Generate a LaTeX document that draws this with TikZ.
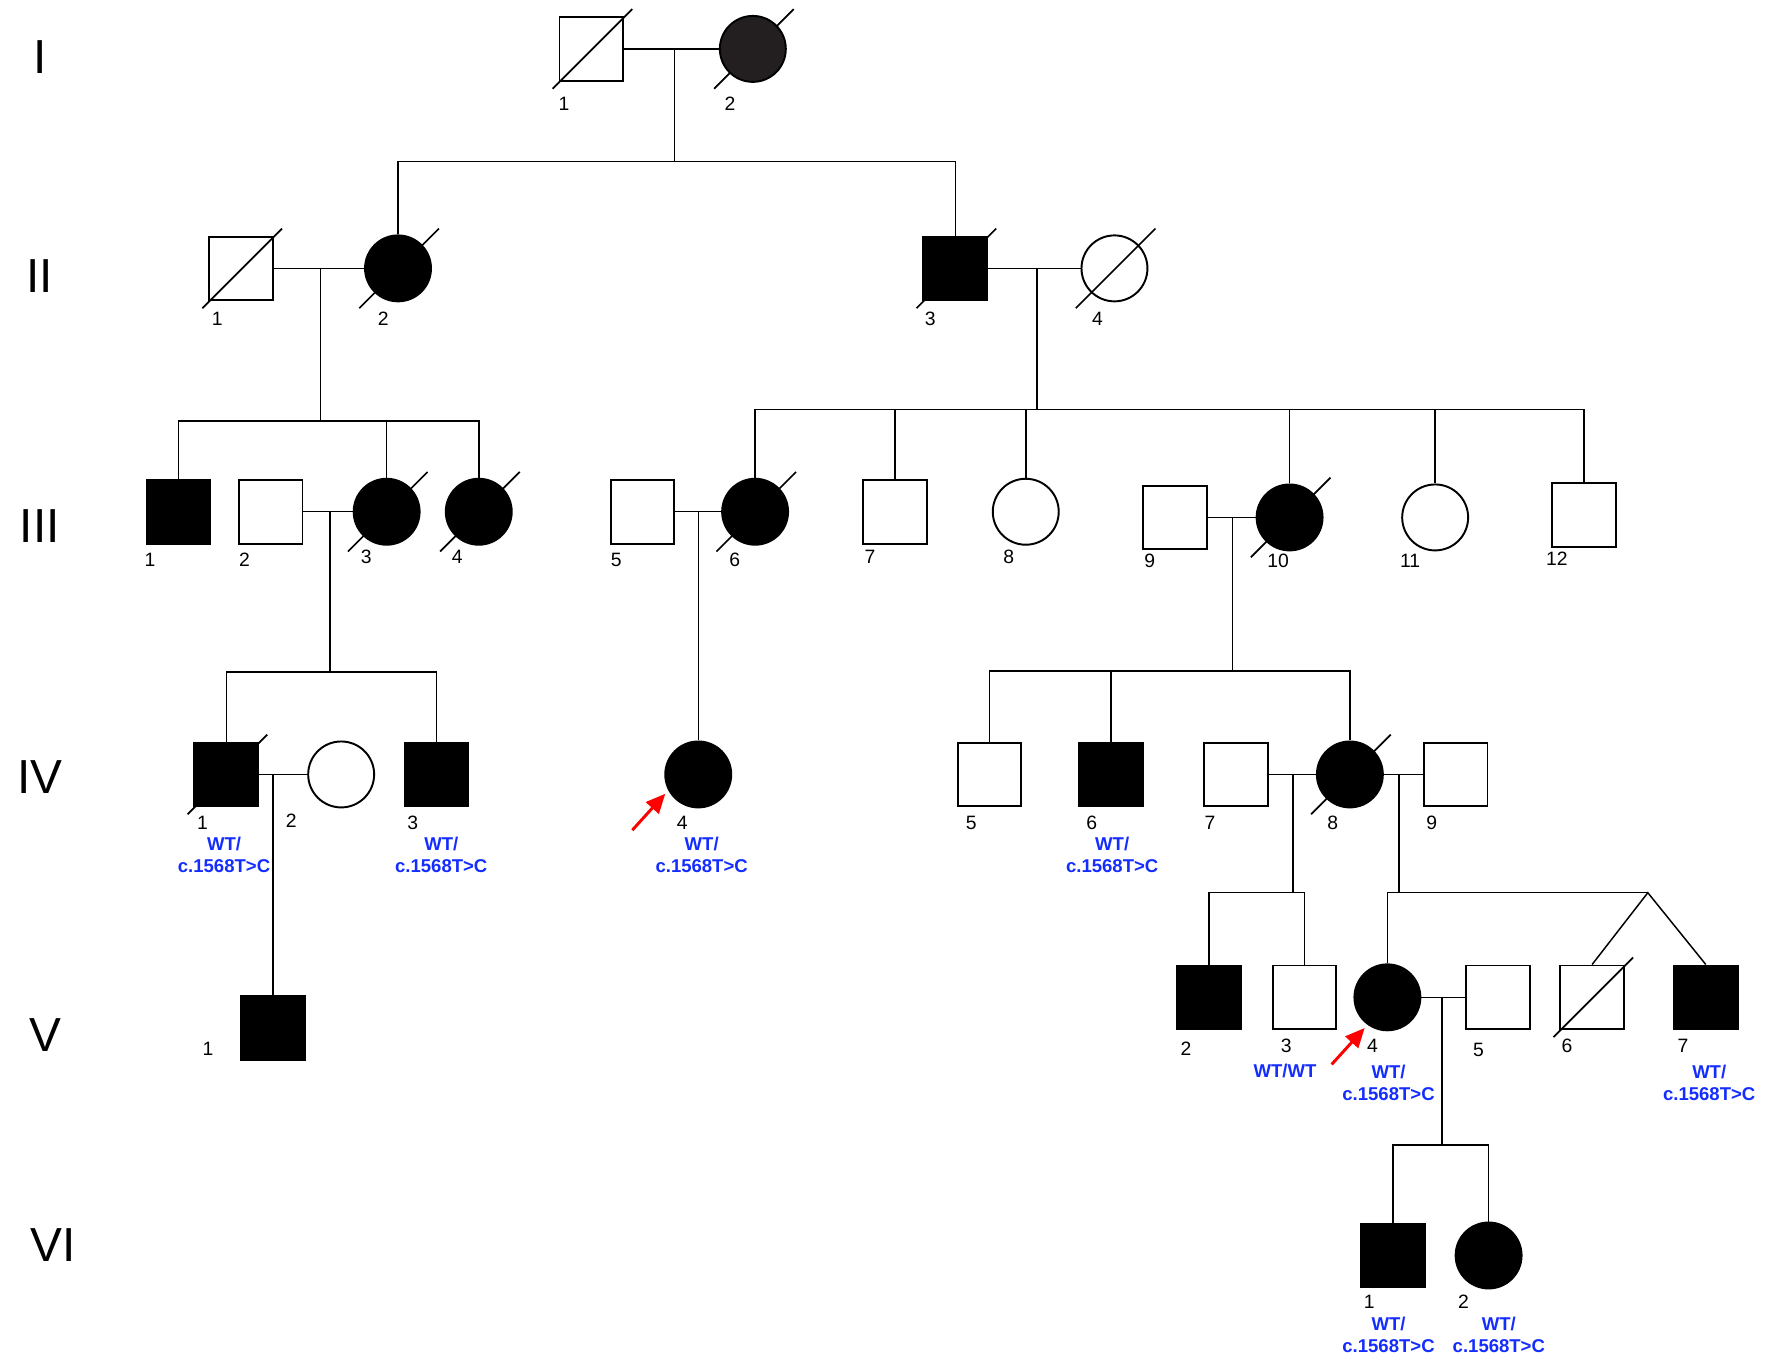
\documentclass[tikz,border=0pt]{standalone}
\usepackage{fontspec}
\setmainfont{Liberation Sans}
\usetikzlibrary{arrows.meta}

\definecolor{gblue}{RGB}{20,45,255}
\definecolor{darkfill}{RGB}{35,31,32}

% slash through a deceased individual
\newcommand{\deceased}[1]{%
  \draw[line width=1.5pt] ([shift={(-34,35)}]#1.center) -- ([shift={(36,-35)}]#1.center);}

\begin{document}
\begin{tikzpicture}[x=1pt,y=-1pt,
  male/.style={draw, rectangle, minimum size=56pt, inner sep=0pt, line width=1.7pt},
  female/.style={draw, circle, minimum size=58pt, inner sep=0pt, line width=1.7pt},
  aff/.style={fill=black},
  line/.style={line width=1.3pt},
  idlabel/.style={font=\fontsize{17}{17}\selectfont, inner sep=0pt},
  genlabel/.style={font=\fontsize{42}{42}\selectfont, inner sep=0pt},
  geno/.style={font=\bfseries\fontsize{16.3}{19.5}\selectfont, text=gblue, align=center, inner sep=0pt},
  proband/.style={red, line width=2.6pt, -{Triangle[length=17pt,width=15pt]}},
]

  % Fix the page size
  \useasboundingbox (0,0) rectangle (1567,1195.9);

  % Generation labels
  \node[genlabel] (gI)   at (35,50)   {I};
  \node[genlabel] (gII)  at (35,243)  {II};
  \node[genlabel] (gIII) at (35,463)  {III};
  \node[genlabel] (gIV)  at (35,683)  {IV};
  \node[genlabel] (gV)   at (40,910)  {V};
  \node[genlabel] (gVI)  at (47,1095) {VI};

  % Generation I (slash of I-2 goes behind its fill)
  \node[male] (I1) at (520,43) {};
  \coordinate (I2c) at (662,43);
  \draw[line width=1.5pt] ([shift={(-34,35)}]I2c) -- ([shift={(36,-35)}]I2c);
  \node[female, fill=darkfill] (I2) at (I2c) {};
  \deceased{I1}
  \node[idlabel] (lI1) at (496,91) {1};
  \node[idlabel] (lI2) at (642,91) {2};

  % Generation II
  \node[male] (II1) at (212,236) {};
  \node[female, aff] (II2) at (350,236) {};
  \node[male, aff] (II3) at (840,236) {};
  \node[female] (II4) at (980,236) {};
  \deceased{II1}
  \deceased{II2}
  \deceased{II3}
  \deceased{II4}
  \node[idlabel] (lII1) at (191,280) {1};
  \node[idlabel] (lII2) at (337,280) {2};
  \node[idlabel] (lII3) at (818,280) {3};
  \node[idlabel] (lII4) at (965,280) {4};

  % Generation III
  \node[male, aff] (III1) at (157,450) {};
  \node[male] (III2) at (238,450) {};
  \node[female, aff] (III3) at (340,450) {};
  \node[female, aff] (III4) at (421,450) {};
  \node[male] (III5) at (565,450) {};
  \node[female, aff] (III6) at (664,450) {};
  \node[male] (III7) at (787,450) {};
  \node[female] (III8) at (902,450) {};
  \node[male] (III9) at (1033,455) {};
  \node[female, aff] (III10) at (1134,455) {};
  \node[female] (III11) at (1262,455) {};
  \node[male] (III12) at (1393,453) {};
  \deceased{III3}
  \deceased{III4}
  \deceased{III6}
  \deceased{III10}
  \node[idlabel] (lIII1)  at (132,492)  {1};
  \node[idlabel] (lIII2)  at (215,492)  {2};
  \node[idlabel] (lIII3)  at (322,490)  {3};
  \node[idlabel] (lIII4)  at (402,490)  {4};
  \node[idlabel] (lIII5)  at (542,492)  {5};
  \node[idlabel] (lIII6)  at (646,492)  {6};
  \node[idlabel] (lIII7)  at (765,490)  {7};
  \node[idlabel] (lIII8)  at (887,490)  {8};
  \node[idlabel] (lIII9)  at (1011,493) {9};
  \node[idlabel] (lIII10) at (1124,493) {10};
  \node[idlabel] (lIII11) at (1240,493) {11};
  \node[idlabel] (lIII12) at (1369,491) {12};

  % Generation IV
  \node[male, aff] (IV1) at (199,681) {};
  \node[female] (IV2) at (300,681) {};
  \node[male, aff] (IV3) at (384,681) {};
  \node[female, aff] (IV4) at (614,681) {};
  \node[male] (IV5) at (870,681) {};
  \node[male, aff] (IV6) at (977,681) {};
  \node[male] (IV7) at (1087,681) {};
  \node[female, aff] (IV8) at (1187,681) {};
  \node[male] (IV9) at (1280,681) {};
  \deceased{IV1}
  \deceased{IV8}
  \node[idlabel] (lIV1) at (178,724)  {1};
  \node[idlabel] (lIV2) at (256,722)  {2};
  \node[idlabel] (lIV3) at (363,724)  {3};
  \node[idlabel] (lIV4) at (600,724)  {4};
  \node[idlabel] (lIV5) at (854,724)  {5};
  \node[idlabel] (lIV6) at (960,724)  {6};
  \node[idlabel] (lIV7) at (1064,724) {7};
  \node[idlabel] (lIV8) at (1172,724) {8};
  \node[idlabel] (lIV9) at (1259,724) {9};

  % Generation V
  \node[male, aff] (V1) at (240,904) {};
  \node[male, aff] (V2) at (1063,877) {};
  \node[male] (V3) at (1147,877) {};
  \node[female, aff] (V4) at (1220,877) {};
  \node[male] (V5) at (1317,877) {};
  \node[male] (V6) at (1400,877) {};
  \node[male, aff] (V7) at (1500,877) {};
  \deceased{V6}
  \node[idlabel] (lV1) at (183,922)  {1};
  \node[idlabel] (lV2) at (1043,922) {2};
  \node[idlabel] (lV3) at (1131,920) {3};
  \node[idlabel] (lV4) at (1207,920) {4};
  \node[idlabel] (lV5) at (1300,923) {5};
  \node[idlabel] (lV6) at (1378,920) {6};
  \node[idlabel] (lV7) at (1480,920) {7};

  % Generation VI
  \node[male, aff] (VI1) at (1225,1104) {};
  \node[female, aff] (VI2) at (1309,1104) {};
  \node[idlabel] (lVI1) at (1204,1145) {1};
  \node[idlabel] (lVI2) at (1287,1145) {2};

  % Genotypes
  \node[geno] (gtIV1)  at (197,752)   {WT/\\c.1568T>C};
  \node[geno] (gtIV3)  at (388,752)   {WT/\\c.1568T>C};
  \node[geno] (gtIV4)  at (617,752)   {WT/\\c.1568T>C};
  \node[geno] (gtIV6)  at (978,752)   {WT/\\c.1568T>C};
  \node[geno] (gtV3)   at (1130,942)  {WT/WT};
  \node[geno] (gtV4)   at (1221,952)  {WT/\\c.1568T>C};
  \node[geno] (gtV7)   at (1503,952)  {WT/\\c.1568T>C};
  \node[geno] (gtVI1)  at (1221,1174) {WT/\\c.1568T>C};
  \node[geno] (gtVI2)  at (1318,1174) {WT/\\c.1568T>C};

  % Mating points and sibship bars
  \coordinate (m1)  at (593,43);   \coordinate (s1)  at (593,142);
  \coordinate (m2)  at (282,236);  \coordinate (s2)  at (282,370);
  \coordinate (m3)  at (912,236);  \coordinate (s3)  at (912,360);
  \coordinate (m4)  at (290,450);  \coordinate (s4)  at (290,591);
  \coordinate (m5)  at (614,450);
  \coordinate (m6)  at (1084,455); \coordinate (s6)  at (1084,590);
  \coordinate (m7)  at (240,681);
  \coordinate (m8)  at (1137,681); \coordinate (s8)  at (1137,785);
  \coordinate (m9)  at (1230,681); \coordinate (s9)  at (1230,785);
  \coordinate (tw)  at (1449,785);
  \coordinate (m10) at (1268,877); \coordinate (s10) at (1268,1007);

  % Couples
  \draw[line] (I1) -- (I2);
  \draw[line] (II1) -- (II2);
  \draw[line] (II3) -- (II4);
  \draw[line] (III2) -- (III3);
  \draw[line] (III5) -- (III6);
  \draw[line] (III9) -- (III10);
  \draw[line] (IV1) -- (IV2);
  \draw[line] (IV7) -- (IV8);
  \draw[line] (IV8) -- (IV9);
  \draw[line] (V4) -- (V5);

  % Descent lines
  \draw[line] (m1) -- (s1);
  \draw[line] (II2.north) |- (s1) -| (II3.north);

  \draw[line] (m2) -- (s2);
  \draw[line] (III1.north) |- (s2) -| (III4.north);
  \draw[line] (III3.north) -- (III3.north |- s2);

  \draw[line] (m3) -- (s3);
  \draw[line] (III6.north) |- (s3) -| (III12.north);
  \foreach \c in {III7,III8,III10,III11}
    \draw[line] (\c.north) -- (\c.north |- s3);

  \draw[line] (m4) -- (s4);
  \draw[line] (IV1.north) |- (s4) -| (IV3.north);

  \draw[line] (m5) -- (IV4.north);

  \draw[line] (m6) -- (s6);
  \draw[line] (IV5.north) |- (s6) -| (IV8.north);
  \draw[line] (IV6.north) -- (IV6.north |- s6);

  \draw[line] (m7) -- (V1.north);

  \draw[line] (m8) -- (s8);
  \draw[line] (V2.north) |- (s8) -| (V3.north);

  \draw[line] (m9) -- (s9);
  \draw[line] (V4.north) |- (tw);
  \draw[line] (V6.north) -- (tw) -- (V7.north);

  \draw[line] (m10) -- (s10);
  \draw[line] (VI1.north) |- (s10) -| (VI2.north);

  % Probands
  \coordinate (pa1) at (556,730); \coordinate (pb1) at (585,698);
  \coordinate (pa2) at (1171,936); \coordinate (pb2) at (1200,904);
  \draw[proband] (pa1) -- (pb1);
  \draw[proband] (pa2) -- (pb2);

\end{tikzpicture}
\end{document}
